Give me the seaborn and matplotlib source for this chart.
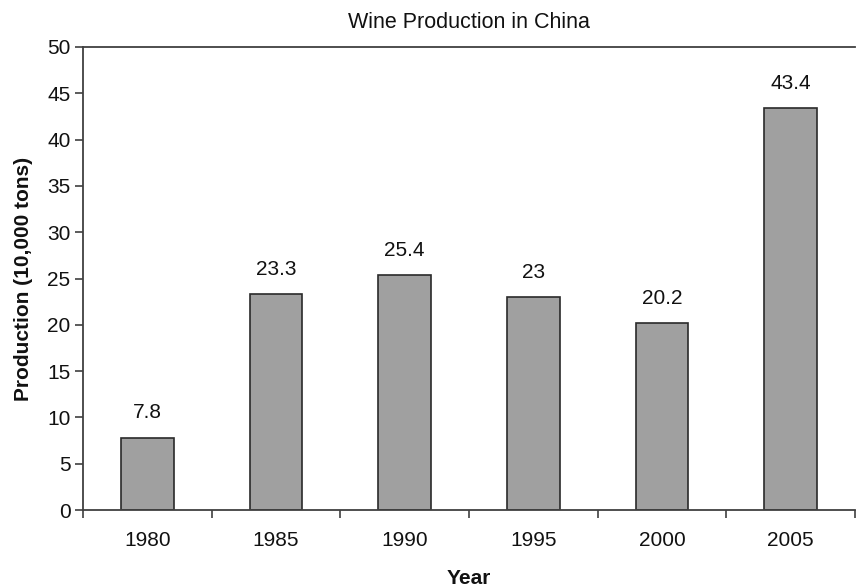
import matplotlib
matplotlib.use("Agg")
import matplotlib.pyplot as plt
import seaborn as sns
import pandas as pd
from matplotlib.ticker import FixedLocator

years = ["1980", "1985", "1990", "1995", "2000", "2005"]
production = [7.8, 23.3, 25.4, 23, 20.2, 43.4]
value_labels = ["7.8", "23.3", "25.4", "23", "20.2", "43.4"]
y_ticks = [0, 5, 10, 15, 20, 25, 30, 35, 40, 45, 50]

sns.set_style("white")
plt.rcParams['font.family'] = ['Liberation Sans', 'DejaVu Sans']

df = pd.DataFrame({"Year": years, "Production": production})

fig = plt.figure(figsize=(8.56, 5.87), dpi=100)
ax = fig.add_axes([83/856, 77/587, (855-83)/856, (510-47)/587])

sns.barplot(data=df, x="Year", y="Production", color="#a0a0a0", saturation=1,
            edgecolor="#2a2a2a", linewidth=1.2, width=0.41, ax=ax)

for i, (v, lab) in enumerate(zip(production, value_labels)):
    ax.annotate(lab, (i, v), xytext=(0, 11), textcoords="offset points",
                ha="center", va="bottom", fontsize=15, color="#111111")

ax.set_xlim(-0.5, 5.5)
ax.set_ylim(0, 50)
ax.set_yticks(y_ticks)
ax.set_yticklabels([str(t) for t in y_ticks])
ax.xaxis.set_minor_locator(FixedLocator([i - 0.5 for i in range(7)]))
ax.tick_params(axis="x", which="major", length=0, pad=15, labelsize=15, labelcolor="#111111")
ax.tick_params(axis="x", which="minor", length=6, width=1.2, color="#404040", direction="out", bottom=True)
ax.tick_params(axis="y", which="major", length=6, width=1.2, color="#404040", direction="out", left=True, labelsize=15, pad=3, labelcolor="#111111")

for s in ax.spines.values():
    s.set_visible(True)
    s.set_color("#404040")
    s.set_linewidth(1.3)
ax.spines["right"].set_visible(False)

ax.set_xlabel("Year", fontsize=15, fontweight="bold", labelpad=14, color="#111111")
ax.set_ylabel("Production (10,000 tons)", fontsize=15, fontweight="bold", labelpad=10, color="#111111")
ax.set_title("Wine Production in China", fontsize=15.5, pad=14, color="#111111")

fig.savefig("out.png", dpi=100)
